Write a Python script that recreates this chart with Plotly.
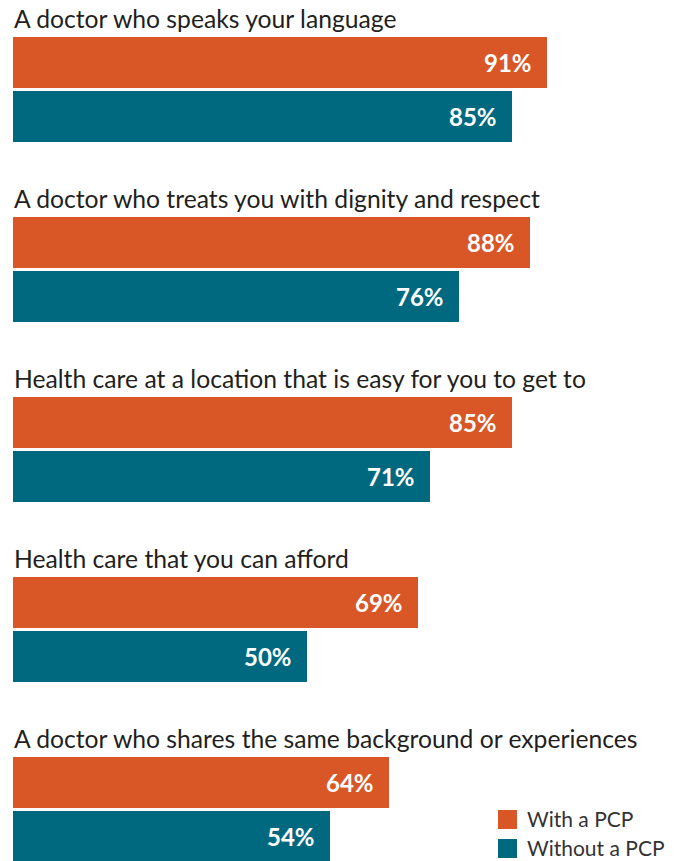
import plotly.graph_objects as go

# Survey items and shares of respondents (percent)
categories = [
    "A doctor who speaks your language",
    "A doctor who treats you with dignity and respect",
    "Health care at a location that is easy for you to get to",
    "Health care that you can afford",
    "A doctor who shares the same background or experiences",
]
with_pcp = [91, 88, 85, 69, 64]
without_pcp = [85, 76, 71, 50, 54]
series_names = ["With a PCP", "Without a PCP"]

ORANGE = "#D95726"
TEAL = "#006980"
FONT = "Lato, 'Open Sans', sans-serif"

W, H = 680, 861
LEFT = 13
PLOT_W = 587          # width of 0-100 % on the x axis
GROUP = 180           # vertical pitch of one item (label + two bars)
BAR_H = 51
ORANGE_Y0 = 62.5      # centre of first orange bar (pixel units on y)
TEAL_Y0 = 116.5
LABEL_Y0 = 18

y_orange = [ORANGE_Y0 + GROUP * i for i in range(len(categories))]
y_teal = [TEAL_Y0 + GROUP * i for i in range(len(categories))]
y_label = [LABEL_Y0 + GROUP * i for i in range(len(categories))]

fig = go.Figure()
fig.add_trace(go.Bar(x=with_pcp, y=y_orange, orientation="h", width=BAR_H,
                     marker=dict(color=ORANGE, line_width=0), name=series_names[0],
                     showlegend=False))
fig.add_trace(go.Bar(x=without_pcp, y=y_teal, orientation="h", width=BAR_H,
                     marker=dict(color=TEAL, line_width=0), name=series_names[1],
                     showlegend=False))

annotations = []
for cat, yl in zip(categories, y_label):
    annotations.append(dict(x=0, y=yl, xref="x", yref="y", text=cat, showarrow=False,
                            xanchor="left", yanchor="middle", xshift=-1,
                            font=dict(family=FONT, size=24.7, color="#231F20")))
for vals, ys in ((with_pcp, y_orange), (without_pcp, y_teal)):
    for v, yv in zip(vals, ys):
        annotations.append(dict(x=v, y=yv, xref="x", yref="y", text=f"<b>{v}%</b>",
                                showarrow=False, xanchor="right", yanchor="middle",
                                xshift=-13, font=dict(family=FONT, size=24, color="white")))

# Legend: swatches and labels in the lower right corner
shapes = []
legend_rows = [(series_names[0], ORANGE, 819.5), (series_names[1], TEAL, 848.5)]
px = lambda p: (p - LEFT) / PLOT_W
for name, col, yc in legend_rows:
    shapes.append(dict(type="rect", xref="paper", yref="y", x0=px(498), x1=px(517),
                       y0=yc - 9.5, y1=yc + 9.5, fillcolor=col, line_width=0))
    annotations.append(dict(x=px(525), y=yc - 1, xref="paper", yref="y", text=name,
                            showarrow=False, xanchor="left", yanchor="middle",
                            font=dict(family=FONT, size=21, color="#333333")))

fig.update_layout(
    width=W, height=H,
    margin=dict(l=LEFT, r=W - LEFT - PLOT_W, t=0, b=0),
    paper_bgcolor="white", plot_bgcolor="white",
    xaxis=dict(range=[0, 100], visible=False, fixedrange=True),
    yaxis=dict(range=[H, 0], visible=False, fixedrange=True),
    bargap=0, annotations=annotations, shapes=shapes, showlegend=False,
)

fig.write_html("out.html")
